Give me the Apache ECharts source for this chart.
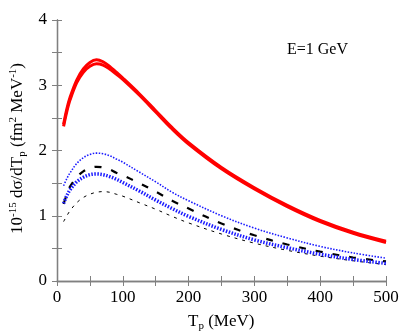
<!DOCTYPE html>
<html>
<head>
<meta charset="utf-8">
<script src="https://cdn.jsdelivr.net/npm/echarts@6/dist/echarts.min.js"></script>
<style>
  html, body { margin: 0; padding: 0; background: #fff; }
  #chart { width: 415px; height: 335px; }
</style>
</head>
<body>
<div id="chart"></div>
<script>
// proton energy T_p (MeV)
var tp = [10, 15, 20, 30, 40, 50, 60, 70, 80, 90, 100, 125, 150, 175, 200, 250, 300, 350, 400, 450, 500];

// cross sections, 10^-15 fm^2 MeV^-1
var redA   = [2.40, 2.64, 2.82, 3.08, 3.25, 3.35, 3.39, 3.36, 3.29, 3.20, 3.11, 2.87, 2.61, 2.35, 2.12, 1.74, 1.43, 1.16, 0.93, 0.75, 0.61];
var redB   = [2.37, 2.60, 2.78, 3.04, 3.20, 3.29, 3.33, 3.31, 3.25, 3.17, 3.09, 2.85, 2.59, 2.33, 2.10, 1.72, 1.41, 1.14, 0.91, 0.73, 0.59];
var blueUp = [1.46, 1.57, 1.66, 1.80, 1.89, 1.94, 1.96, 1.95, 1.92, 1.87, 1.82, 1.67, 1.52, 1.36, 1.23, 1.00, 0.81, 0.66, 0.53, 0.43, 0.35];
var blueLo = [1.19, 1.31, 1.40, 1.52, 1.59, 1.63, 1.64, 1.63, 1.60, 1.56, 1.51, 1.38, 1.24, 1.11, 0.99, 0.79, 0.63, 0.51, 0.41, 0.33, 0.27];
var longDash  = [1.18, 1.33, 1.45, 1.59, 1.68, 1.73, 1.75, 1.74, 1.71, 1.66, 1.62, 1.50, 1.37, 1.23, 1.11, 0.88, 0.70, 0.56, 0.45, 0.36, 0.30];
var shortDash = [0.91, 1.00, 1.08, 1.20, 1.28, 1.33, 1.36, 1.37, 1.36, 1.33, 1.30, 1.20, 1.10, 0.99, 0.89, 0.72, 0.58, 0.47, 0.38, 0.31, 0.25];

var xTicks = [0, 100, 200, 300, 400, 500];
var yTicks = [0, 1, 2, 3, 4];

function pairs(ys) {
  return tp.map(function (x, i) { return [x, ys[i]]; });
}

function line(ys, color, width, type) {
  return {
    type: 'line',
    data: pairs(ys),
    smooth: 0.35,
    showSymbol: false,
    silent: true,
    lineStyle: { color: color, width: width, type: type }
  };
}

var grey = '#808080';
var frame = { show: true, lineStyle: { color: grey, width: 1.3 } };
var tick = { inside: true, length: 5, lineStyle: { color: grey } };
var minor = { show: true, splitNumber: 2, length: 5, lineStyle: { color: grey } };
var font = 'Liberation Serif';

var chart = echarts.init(document.getElementById('chart'));
chart.setOption({
  animation: false,
  backgroundColor: '#fff',
  grid: { left: 57, right: 29, top: 20, bottom: 54 },
  xAxis: [{
    type: 'value', min: xTicks[0], max: xTicks[xTicks.length - 1], interval: 100,
    axisLine: frame, axisTick: tick, minorTick: minor,
    splitLine: { show: false },
    axisLabel: { color: '#000', fontFamily: font, fontSize: 17, margin: 8 }
  }, {
    type: 'value', position: 'top', min: 0, max: 500, interval: 100,
    axisLine: frame, axisTick: tick, minorTick: minor,
    splitLine: { show: false },
    axisLabel: { show: false }
  }],
  yAxis: [{
    type: 'value', min: yTicks[0], max: yTicks[yTicks.length - 1], interval: 1,
    axisLine: frame, axisTick: tick, minorTick: minor,
    splitLine: { show: false },
    axisLabel: { color: '#000', fontFamily: font, fontSize: 17, margin: 10 }
  }, {
    type: 'value', position: 'right', min: 0, max: 4, interval: 1,
    axisLine: frame, axisTick: tick, minorTick: minor,
    splitLine: { show: false },
    axisLabel: { show: false }
  }],
  series: [
    line(shortDash, '#000', 1, [3, 5]),
    line(longDash, '#000', 2.2, [7, 10]),
    line(blueLo, '#1a1aff', 3.5, [1.5, 1.5]),
    line(blueUp, '#1a1aff', 1.6, [1.5, 1.5]),
    line(redA, '#ff0000', 3, 'solid'),
    line(redB, '#ff0000', 3, 'solid')
  ],
  graphic: [{
    type: 'text', left: 287, top: 42,
    style: { text: 'E=1 GeV', fontFamily: font, fontSize: 16, fill: '#000' }
  }, {
    type: 'text', x: 188, y: 312,
    style: {
      text: 'T{sub|p} (MeV)',
      fontFamily: font, fontSize: 17, fill: '#000',
      rich: { sub: { fontFamily: font, fontSize: 11, padding: [9, 0, 0, 0] } }
    }
  }, {
    type: 'text', x: 8, y: 234, rotation: Math.PI / 2,
    style: {
      text: '10{sup|-15} dσ/dT{sub|p} (fm{sup|2} MeV{sup|-1})',
      fontFamily: font, fontSize: 17, fill: '#000',
      rich: {
        sup: { fontFamily: font, fontSize: 11, padding: [0, 0, 9, 0] },
        sub: { fontFamily: font, fontSize: 11, padding: [9, 0, 0, 0] }
      }
    }
  }]
});
</script>
</body>
</html>
